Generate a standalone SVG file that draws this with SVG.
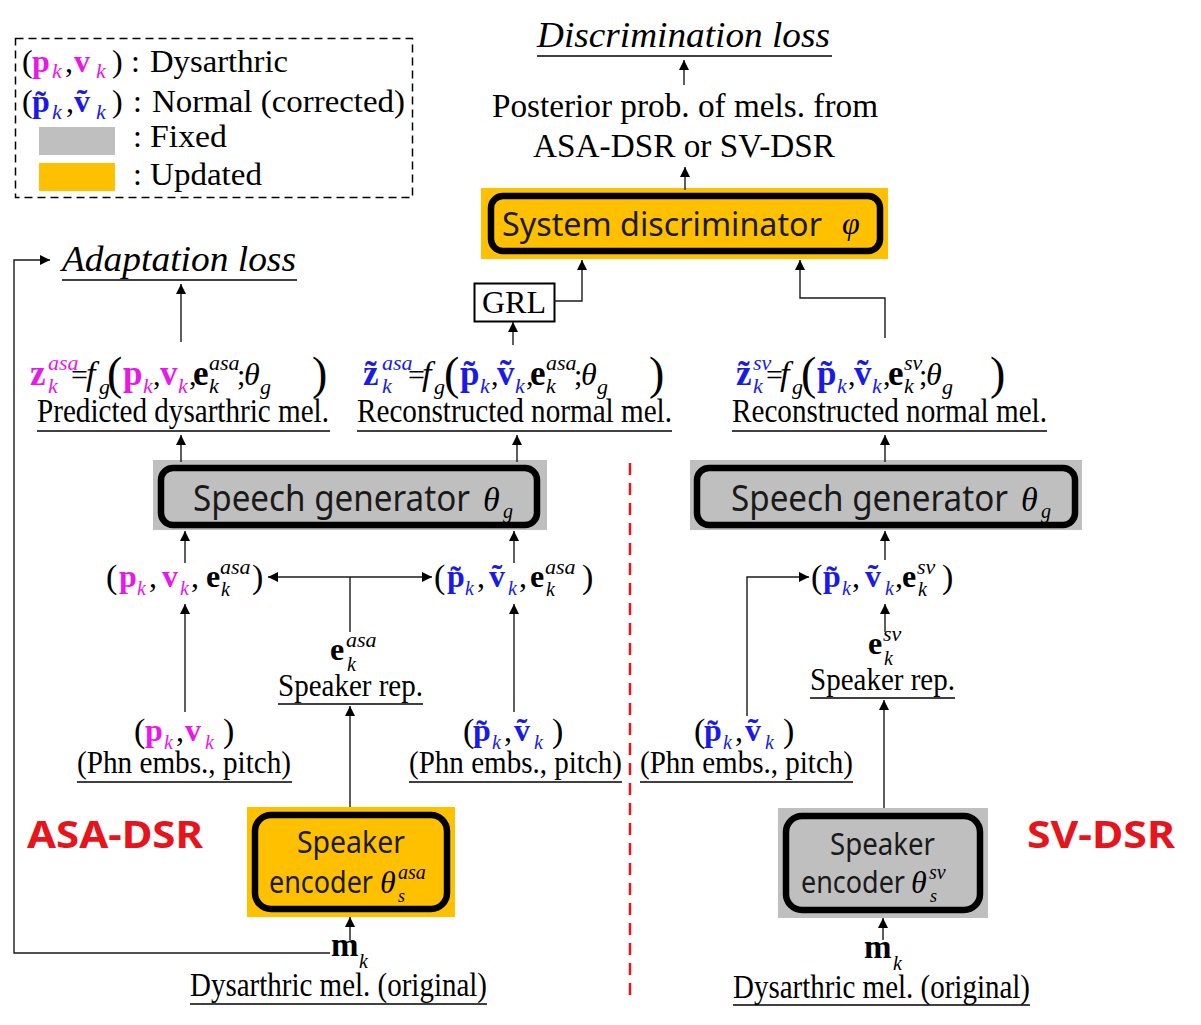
<svg xmlns="http://www.w3.org/2000/svg" width="1201" height="1025" viewBox="0 0 1201 1025">
<defs>
<style>
.t{font-family:'Liberation Serif','Times New Roman',serif;fill:#000}
.b{font-weight:bold}
.i{font-style:italic}
.m{fill:#e818e8}
.bl{fill:#1a1ae8}
.sans{font-family:'Noto Sans','Open Sans',sans-serif;fill:#1a1a1a}
.red{font-family:'Noto Sans','Liberation Sans',sans-serif;font-weight:bold;fill:#e8141c}
.ln{stroke:#1a1a1a;stroke-width:1.4;fill:none}
.ul{stroke:#000;stroke-width:1.6}
.inner{fill:none;stroke:#000;stroke-width:6.5}
.orange{fill:#ffc000}
.gray{fill:#bfbfbf}
</style>
<marker id="ah" viewBox="0 0 10 10" refX="10" refY="5" markerWidth="11" markerHeight="10" markerUnits="userSpaceOnUse" orient="auto-start-reverse">
<path d="M0,0 L10,5 L0,10 z" fill="#000"/>
</marker>
</defs>
<rect width="1201" height="1025" fill="#fff"/>

<g id="legend">
<rect x="15.5" y="38.5" width="397" height="159" fill="none" stroke="#000" stroke-width="1.5" stroke-dasharray="8 5"/>
<text class="t" font-size="32"><tspan x="22" y="72">(</tspan><tspan class="b m" x="32" y="72">p</tspan><tspan class="i m" font-size="22" x="52" y="78">k</tspan><tspan x="65" y="72">,</tspan><tspan class="b m" x="74" y="72">v</tspan><tspan class="i m" font-size="22" x="96" y="78">k</tspan><tspan x="112" y="72">)</tspan></text>
<text class="t" font-size="32" x="131" y="72">:</text>
<text class="t" font-size="32" x="150" y="72" textLength="138" lengthAdjust="spacingAndGlyphs">Dysarthric</text>
<text class="t" font-size="32"><tspan x="22" y="112">(</tspan><tspan class="b bl" x="32" y="112">p&#x303;</tspan><tspan class="i bl" font-size="22" x="52" y="119">k</tspan><tspan x="66" y="112">,</tspan><tspan class="b bl" x="74" y="112">v&#x303;</tspan><tspan class="i bl" font-size="22" x="96" y="119">k</tspan><tspan x="112" y="112">)</tspan></text>
<text class="t" font-size="32" x="133" y="112">:</text>
<text class="t" font-size="32" x="152" y="112" textLength="253" lengthAdjust="spacingAndGlyphs">Normal (corrected)</text>
<rect class="gray" x="39" y="127" width="76" height="28"/>
<text class="t" font-size="32" x="133" y="147">:</text>
<text class="t" font-size="32" x="150" y="147" textLength="77" lengthAdjust="spacingAndGlyphs">Fixed</text>
<rect class="orange" x="39" y="163" width="76" height="28"/>
<text class="t" font-size="32" x="133" y="185">:</text>
<text class="t" font-size="32" x="150" y="185" textLength="112" lengthAdjust="spacingAndGlyphs">Updated</text>
</g>

<g id="disc-loss">
<text class="t i" font-size="35" x="537" y="47" textLength="293" lengthAdjust="spacingAndGlyphs">Discrimination loss</text>
<line class="ul" x1="537" y1="56" x2="832" y2="56"/>
</g>

<g id="posterior">
<text class="t" font-size="33" x="492" y="117" textLength="386" lengthAdjust="spacingAndGlyphs">Posterior prob. of mels. from</text>
<text class="t" font-size="33" x="533" y="157" textLength="302" lengthAdjust="spacingAndGlyphs">ASA-DSR or SV-DSR</text>
</g>

<g id="discriminator">
<rect class="orange" x="481" y="188" width="407" height="71"/>
<rect class="inner" x="491" y="196" width="389" height="55" rx="12"/>
<text class="sans" font-size="33" x="502" y="236" textLength="320" lengthAdjust="spacingAndGlyphs">System discriminator</text>
<text class="t i" font-size="32" x="842" y="234">φ</text>
</g>

<g id="grl">
<rect x="474.5" y="283.5" width="80" height="38" fill="#fff" stroke="#000" stroke-width="2"/>
<text class="t" font-size="32" x="482" y="313" textLength="64" lengthAdjust="spacingAndGlyphs">GRL</text>
</g>

<g id="adapt-loss">
<text class="t i" font-size="35" x="62" y="271" textLength="234" lengthAdjust="spacingAndGlyphs">Adaptation loss</text>
<line class="ul" x1="62" y1="280" x2="297" y2="280"/>
</g>

<g id="formula-asa">
<text class="t" font-size="35"><tspan class="b m" x="30" y="385">z</tspan><tspan class="i m" font-size="22" x="48" y="370">asa</tspan><tspan class="i m" font-size="22" x="48" y="393">k</tspan><tspan font-size="30" x="71" y="385">=</tspan><tspan class="i" font-size="34" x="86" y="385">f</tspan><tspan class="i" font-size="22" x="99" y="394">g</tspan><tspan font-size="46" x="107" y="389">(</tspan><tspan class="b m" x="123" y="385">p</tspan><tspan class="i m" font-size="22" x="143" y="393">k</tspan><tspan font-size="30" x="153" y="385">,</tspan><tspan class="b m" x="160" y="385">v</tspan><tspan class="i m" font-size="22" x="178" y="393">k</tspan><tspan font-size="30" x="189" y="385">,</tspan><tspan class="b" x="193" y="385">e</tspan><tspan class="i" font-size="22" x="209" y="370">asa</tspan><tspan class="i" font-size="22" x="209" y="393">k</tspan><tspan font-size="30" x="237" y="385">;</tspan><tspan class="i" font-size="32" x="244" y="385">θ</tspan><tspan class="i" font-size="22" x="260" y="394">g</tspan><tspan font-size="46" x="312" y="389">)</tspan></text>
<text class="t" font-size="33" x="37" y="422" textLength="292" lengthAdjust="spacingAndGlyphs">Predicted dysarthric mel.</text>
<line class="ul" x1="37" y1="431" x2="330" y2="431"/>
</g>

<g id="formula-asa-normal">
<text class="t" font-size="35"><tspan class="b bl" x="363" y="385">z&#x303;</tspan><tspan class="i bl" font-size="22" x="382" y="370">asa</tspan><tspan class="i bl" font-size="22" x="382" y="393">k</tspan><tspan font-size="30" x="408" y="385">=</tspan><tspan class="i" font-size="34" x="422" y="385">f</tspan><tspan class="i" font-size="22" x="434" y="394">g</tspan><tspan font-size="46" x="444" y="389">(</tspan><tspan class="b bl" x="460" y="385">p&#x303;</tspan><tspan class="i bl" font-size="22" x="480" y="393">k</tspan><tspan font-size="30" x="491" y="385">,</tspan><tspan class="b bl" x="497" y="385">v&#x303;</tspan><tspan class="i bl" font-size="22" x="515" y="393">k</tspan><tspan font-size="30" x="526" y="385">,</tspan><tspan class="b" x="530" y="385">e</tspan><tspan class="i" font-size="22" x="546" y="370">asa</tspan><tspan class="i" font-size="22" x="546" y="393">k</tspan><tspan font-size="30" x="574" y="385">;</tspan><tspan class="i" font-size="32" x="581" y="385">θ</tspan><tspan class="i" font-size="22" x="597" y="394">g</tspan><tspan font-size="46" x="649" y="389">)</tspan></text>
<text class="t" font-size="33" x="357" y="422" textLength="315" lengthAdjust="spacingAndGlyphs">Reconstructed normal mel.</text>
<line class="ul" x1="357" y1="431" x2="672" y2="431"/>
</g>

<g id="formula-sv">
<text class="t" font-size="35"><tspan class="b bl" x="736" y="385">z&#x303;</tspan><tspan class="i bl" font-size="22" x="753" y="370">sv</tspan><tspan class="i bl" font-size="22" x="753" y="393">k</tspan><tspan font-size="30" x="766" y="385">=</tspan><tspan class="i" font-size="34" x="780" y="385">f</tspan><tspan class="i" font-size="22" x="792" y="394">g</tspan><tspan font-size="46" x="801" y="389">(</tspan><tspan class="b bl" x="817" y="385">p&#x303;</tspan><tspan class="i bl" font-size="22" x="837" y="393">k</tspan><tspan font-size="30" x="848" y="385">,</tspan><tspan class="b bl" x="854" y="385">v&#x303;</tspan><tspan class="i bl" font-size="22" x="872" y="393">k</tspan><tspan font-size="30" x="883" y="385">,</tspan><tspan class="b" x="888" y="385">e</tspan><tspan class="i" font-size="22" x="904" y="370">sv</tspan><tspan class="i" font-size="22" x="904" y="393">k</tspan><tspan font-size="30" x="919" y="385">;</tspan><tspan class="i" font-size="32" x="926" y="385">θ</tspan><tspan class="i" font-size="22" x="942" y="394">g</tspan><tspan font-size="46" x="990" y="389">)</tspan></text>
<text class="t" font-size="33" x="732" y="422" textLength="315" lengthAdjust="spacingAndGlyphs">Reconstructed normal mel.</text>
<line class="ul" x1="732" y1="431" x2="1047" y2="431"/>
</g>

<g id="sg-asa">
<rect class="gray" x="153" y="460" width="394" height="70"/>
<rect class="inner" x="161" y="468" width="376" height="57" rx="12"/>
<text class="sans" font-size="36" x="193" y="511" textLength="277" lengthAdjust="spacingAndGlyphs">Speech generator</text>
<text class="t i" font-size="34" x="483" y="511">θ</text>
<text class="t i" font-size="20" x="503" y="518">g</text>
</g>

<g id="sg-sv">
<rect class="gray" x="690" y="460" width="392" height="70"/>
<rect class="inner" x="697" y="468" width="378" height="57" rx="12"/>
<text class="sans" font-size="36" x="731" y="511" textLength="277" lengthAdjust="spacingAndGlyphs">Speech generator</text>
<text class="t i" font-size="34" x="1021" y="511">θ</text>
<text class="t i" font-size="20" x="1041" y="518">g</text>
</g>

<g id="tuple-asa">
<text class="t" font-size="32"><tspan font-size="34" x="106" y="588">(</tspan><tspan class="b m" x="119" y="587">p</tspan><tspan class="i m" font-size="20" x="137" y="595">k</tspan><tspan x="149" y="587">,</tspan><tspan class="b m" x="162" y="587">v</tspan><tspan class="i m" font-size="20" x="180" y="595">k</tspan><tspan x="191" y="587">,</tspan><tspan class="b" x="206" y="587">e</tspan><tspan class="i" font-size="22" x="220" y="574">asa</tspan><tspan class="i" font-size="20" x="221" y="596">k</tspan><tspan font-size="34" x="252" y="588">)</tspan></text>
</g>

<g id="tuple-asa-normal">
<text class="t" font-size="32"><tspan font-size="34" x="434" y="588">(</tspan><tspan class="b bl" x="447" y="587">p&#x303;</tspan><tspan class="i bl" font-size="20" x="465" y="595">k</tspan><tspan x="477" y="587">,</tspan><tspan class="b bl" x="489" y="587">v&#x303;</tspan><tspan class="i bl" font-size="20" x="508" y="595">k</tspan><tspan x="519" y="587">,</tspan><tspan class="b" x="530" y="587">e</tspan><tspan class="i" font-size="22" x="545" y="574">asa</tspan><tspan class="i" font-size="20" x="546" y="596">k</tspan><tspan font-size="34" x="582" y="588">)</tspan></text>
</g>

<g id="tuple-sv">
<text class="t" font-size="32"><tspan font-size="34" x="811" y="588">(</tspan><tspan class="b bl" x="823" y="587">p&#x303;</tspan><tspan class="i bl" font-size="20" x="842" y="595">k</tspan><tspan x="852" y="587">,</tspan><tspan class="b bl" x="865" y="587">v&#x303;</tspan><tspan class="i bl" font-size="20" x="885" y="595">k</tspan><tspan x="895" y="587">,</tspan><tspan class="b" x="902" y="587">e</tspan><tspan class="i" font-size="22" x="917" y="574">sv</tspan><tspan class="i" font-size="20" x="918" y="596">k</tspan><tspan font-size="34" x="942" y="588">)</tspan></text>
</g>

<g id="spk-rep-asa">
<text class="t" font-size="32"><tspan class="b" x="330" y="660">e</tspan><tspan class="i" font-size="22" x="346" y="647">asa</tspan><tspan class="i" font-size="20" x="347" y="671">k</tspan></text>
<text class="t" font-size="32" x="278" y="696" textLength="145" lengthAdjust="spacingAndGlyphs">Speaker rep.</text>
<line class="ul" x1="278" y1="704" x2="423" y2="704"/>
</g>

<g id="spk-rep-sv">
<text class="t" font-size="32"><tspan class="b" x="868" y="654">e</tspan><tspan class="i" font-size="22" x="883" y="641">sv</tspan><tspan class="i" font-size="20" x="884" y="665">k</tspan></text>
<text class="t" font-size="32" x="810" y="690" textLength="145" lengthAdjust="spacingAndGlyphs">Speaker rep.</text>
<line class="ul" x1="810" y1="698" x2="955" y2="698"/>
</g>

<g id="phn-asa">
<text class="t" font-size="32"><tspan font-size="34" x="134" y="742">(</tspan><tspan class="b m" x="145" y="741">p</tspan><tspan class="i m" font-size="20" x="164" y="749">k</tspan><tspan x="176" y="741">,</tspan><tspan class="b m" x="185" y="741">v</tspan><tspan class="i m" font-size="20" x="205" y="749">k</tspan><tspan font-size="34" x="223" y="742">)</tspan></text>
<text class="t" font-size="32" x="77" y="773" textLength="214" lengthAdjust="spacingAndGlyphs">(Phn embs., pitch)</text>
<line class="ul" x1="77" y1="782" x2="292" y2="782"/>
</g>

<g id="phn-asa-normal">
<text class="t" font-size="32"><tspan font-size="34" x="463" y="742">(</tspan><tspan class="b bl" x="473" y="741">p&#x303;</tspan><tspan class="i bl" font-size="20" x="492" y="749">k</tspan><tspan x="504" y="741">,</tspan><tspan class="b bl" x="514" y="741">v&#x303;</tspan><tspan class="i bl" font-size="20" x="534" y="749">k</tspan><tspan font-size="34" x="552" y="742">)</tspan></text>
<text class="t" font-size="32" x="409" y="773" textLength="213" lengthAdjust="spacingAndGlyphs">(Phn embs., pitch)</text>
<line class="ul" x1="409" y1="782" x2="622" y2="782"/>
</g>

<g id="phn-sv">
<text class="t" font-size="32"><tspan font-size="34" x="694" y="742">(</tspan><tspan class="b bl" x="704" y="741">p&#x303;</tspan><tspan class="i bl" font-size="20" x="723" y="749">k</tspan><tspan x="735" y="741">,</tspan><tspan class="b bl" x="745" y="741">v&#x303;</tspan><tspan class="i bl" font-size="20" x="765" y="749">k</tspan><tspan font-size="34" x="783" y="742">)</tspan></text>
<text class="t" font-size="32" x="640" y="773" textLength="213" lengthAdjust="spacingAndGlyphs">(Phn embs., pitch)</text>
<line class="ul" x1="640" y1="782" x2="853" y2="782"/>
</g>

<g id="enc-asa">
<rect class="orange" x="247" y="807" width="208" height="110"/>
<rect class="inner" x="255" y="815" width="192" height="94" rx="16"/>
<text class="sans" font-size="30" x="297" y="853" textLength="108" lengthAdjust="spacingAndGlyphs">Speaker</text>
<text class="sans" font-size="30" x="269" y="893" textLength="104" lengthAdjust="spacingAndGlyphs">encoder</text>
<text class="t i" font-size="32" x="380" y="893">θ</text>
<text class="t i" font-size="20" x="398" y="879">asa</text>
<text class="t i" font-size="18" x="398" y="902">s</text>
</g>

<g id="enc-sv">
<rect class="gray" x="778" y="808" width="210" height="110"/>
<rect class="inner" x="786" y="816" width="194" height="94" rx="16"/>
<text class="sans" font-size="30" x="830" y="855" textLength="105" lengthAdjust="spacingAndGlyphs">Speaker</text>
<text class="sans" font-size="30" x="801" y="893" textLength="104" lengthAdjust="spacingAndGlyphs">encoder</text>
<text class="t i" font-size="32" x="911" y="893">θ</text>
<text class="t i" font-size="20" x="929" y="879">sv</text>
<text class="t i" font-size="18" x="930" y="902">s</text>
</g>

<g id="mel-asa">
<text class="t" font-size="33"><tspan class="b" x="331" y="956">m</tspan><tspan class="i" font-size="20" x="359" y="968">k</tspan></text>
<text class="t" font-size="33" x="190" y="996" textLength="297" lengthAdjust="spacingAndGlyphs">Dysarthric mel. (original)</text>
<line class="ul" x1="190" y1="1004" x2="487" y2="1004"/>
</g>

<g id="mel-sv">
<text class="t" font-size="33"><tspan class="b" x="864" y="958">m</tspan><tspan class="i" font-size="20" x="893" y="970">k</tspan></text>
<text class="t" font-size="33" x="733" y="998" textLength="297" lengthAdjust="spacingAndGlyphs">Dysarthric mel. (original)</text>
<line class="ul" x1="733" y1="1005" x2="1030" y2="1005"/>
</g>

<g id="label-asa-dsr">
<text class="red" font-size="38" x="27" y="848" textLength="176" lengthAdjust="spacingAndGlyphs">ASA-DSR</text>
</g>
<g id="label-sv-dsr">
<text class="red" font-size="38" x="1027" y="848" textLength="148" lengthAdjust="spacingAndGlyphs">SV-DSR</text>
</g>

<g id="connectors">
<line class="ln" x1="684" y1="85" x2="684" y2="60" marker-end="url(#ah)"/>
<line class="ln" x1="685" y1="190" x2="685" y2="167" marker-end="url(#ah)"/>
<polyline class="ln" points="554,301 582,301 582,260" marker-end="url(#ah)"/>
<line class="ln" x1="513" y1="345" x2="513" y2="322" marker-end="url(#ah)"/>
<polyline class="ln" points="885,338 885,298 800,298 800,260" marker-end="url(#ah)"/>
<line class="ln" x1="181" y1="342" x2="181" y2="284" marker-end="url(#ah)"/>
<polyline class="ln" points="330,953 14,953 14,260 50,260" marker-end="url(#ah)"/>
<line class="ln" x1="181" y1="462" x2="181" y2="435" marker-end="url(#ah)"/>
<line class="ln" x1="517" y1="462" x2="517" y2="435" marker-end="url(#ah)"/>
<line class="ln" x1="885" y1="462" x2="885" y2="435" marker-end="url(#ah)"/>
<line class="ln" x1="185" y1="563" x2="185" y2="531" marker-end="url(#ah)"/>
<line class="ln" x1="514" y1="563" x2="514" y2="531" marker-end="url(#ah)"/>
<line class="ln" x1="885" y1="560" x2="885" y2="531" marker-end="url(#ah)"/>
<line class="ln" x1="268" y1="577" x2="432" y2="577" marker-start="url(#ah)" marker-end="url(#ah)"/>
<line class="ln" x1="350" y1="577" x2="350" y2="632"/>
<line class="ln" x1="350" y1="807" x2="350" y2="706" marker-end="url(#ah)"/>
<line class="ln" x1="185" y1="712" x2="185" y2="604" marker-end="url(#ah)"/>
<line class="ln" x1="514" y1="712" x2="514" y2="604" marker-end="url(#ah)"/>
<polyline class="ln" points="747,716 747,577 809,577" marker-end="url(#ah)"/>
<line class="ln" x1="885" y1="632" x2="885" y2="604" marker-end="url(#ah)"/>
<line class="ln" x1="884" y1="808" x2="884" y2="700" marker-end="url(#ah)"/>
<line class="ln" x1="350" y1="940" x2="350" y2="917" marker-end="url(#ah)"/>
<line class="ln" x1="883" y1="940" x2="883" y2="918" marker-end="url(#ah)"/>
<line x1="630" y1="463" x2="630" y2="1000" stroke="#e8141c" stroke-width="2.5" stroke-dasharray="12 8"/>
</g>
</svg>
